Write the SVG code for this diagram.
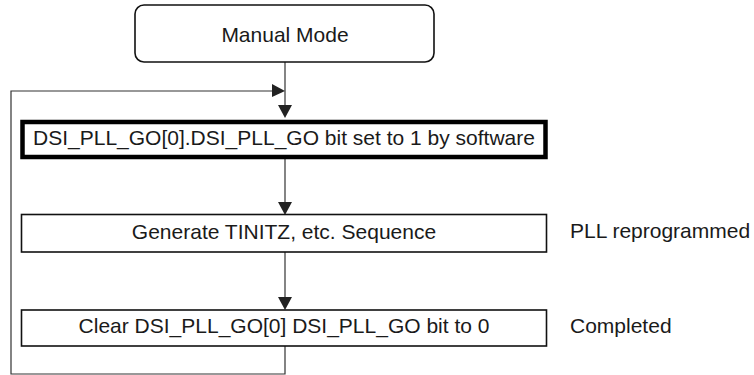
<svg xmlns="http://www.w3.org/2000/svg" width="754" height="375" viewBox="0 0 754 375">
<style>
text{font-family:"Liberation Sans",Arial,sans-serif;font-size:21px;fill:#1a1a1a}
.c{text-anchor:middle}
.box{fill:#fff;stroke:#111;stroke-width:1.6}
.bold{fill:#fff;stroke:#000;stroke-width:4.5}
.ln{fill:none;stroke:#333;stroke-width:1.2}
.ah{fill:#222}
</style>
<rect width="754" height="375" fill="#fff"/>
<g id="connectors">
<line class="ln" x1="285" y1="62" x2="285" y2="106"/>
<polygon class="ah" points="278,105 292,105 285,118"/>
<polyline class="ln" points="285,159 285,203"/>
<polygon class="ah" points="278,202 292,202 285,215"/>
<polyline class="ln" points="285,252 285,298"/>
<polygon class="ah" points="278,297 292,297 285,310"/>
<polyline class="ln" points="285,346 285,374 11,374 11,91 273,91"/>
<polygon class="ah" points="272,84 272,97 285,91"/>
</g>
<g id="manual-mode">
<rect class="box" x="135" y="5" width="299" height="57" rx="9"/>
<text class="c" x="285" y="42">Manual Mode</text>
</g>
<g id="go-set">
<rect class="bold" x="22.5" y="122" width="523" height="35"/>
<text class="c" x="284" y="145">DSI_PLL_GO[0].DSI_PLL_GO bit set to 1 by software</text>
</g>
<g id="generate">
<rect class="box" x="21.5" y="214.5" width="525" height="37.5"/>
<text class="c" x="284" y="239">Generate TINITZ, etc. Sequence</text>
</g>
<g id="clear">
<rect class="box" x="21.5" y="310" width="525" height="36"/>
<text class="c" x="284" y="333">Clear DSI_PLL_GO[0] DSI_PLL_GO bit to 0</text>
</g>
<g id="label-reprogrammed">
<text x="570" y="238">PLL reprogrammed</text>
</g>
<g id="label-completed">
<text x="570" y="333">Completed</text>
</g>
</svg>
